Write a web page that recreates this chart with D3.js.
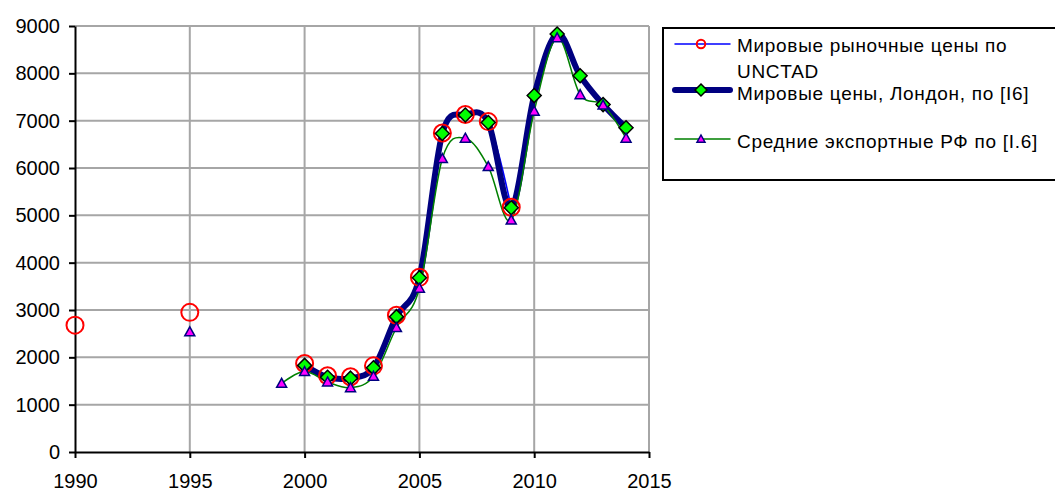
<!DOCTYPE html>
<html>
<head>
<meta charset="utf-8">
<script src="https://cdn.jsdelivr.net/npm/d3@7"></script>
<style>
  body { margin: 0; background: #fff; }
  text { font-family: "Liberation Sans", Arial, sans-serif; fill: #000; }
</style>
</head>
<body>
<svg id="chart" width="1055" height="493"></svg>
<script>
// jaren en de drie reeksen (null = geen waarde)
var years = [1990, 1991, 1992, 1993, 1994, 1995, 1996, 1997, 1998, 1999,
             2000, 2001, 2002, 2003, 2004, 2005, 2006, 2007, 2008, 2009,
             2010, 2011, 2012, 2013, 2014];

var unctad = [2680, null, null, null, null, 2950, null, null, null, null,
              1870, 1610, 1590, 1820, 2890, 3690, 6740, 7130, 6980, 5170,
              null, null, null, null, null];

var london = [null, null, null, null, null, null, null, null, null, null,
              1830, 1580, 1560, 1780, 2860, 3680, 6730, 7120, 6960, 5160,
              7530, 8830, 7950, 7340, 6850];

var exportRF = [null, null, null, null, null, 2540, null, null, null, 1450,
                1700, 1480, 1360, 1600, 2630, 3460, 6200, 6630, 6030, 4900,
                7200, 8750, 7550, 7330, 6630];

var xTicks = [1990, 1995, 2000, 2005, 2010, 2015];
var yTicks = [0, 1000, 2000, 3000, 4000, 5000, 6000, 7000, 8000, 9000];

var legendLabels = [
  ["Мировые рыночные цены по", "UNCTAD"],
  ["Мировые цены, Лондон, по [I6]"],
  ["Средние экспортные РФ по [I.6]"]
];

var svg = d3.select("#chart"),
    plot = {left: 75, right: 649, top: 26, bottom: 452};

var x = d3.scaleLinear().domain([1990, 2015]).range([plot.left, plot.right]);
var y = d3.scaleLinear().domain([0, 9000]).range([plot.bottom, plot.top]);

// grid
svg.append("g")
  .selectAll("line")
  .data(yTicks.slice(1))
  .enter().append("line")
    .attr("x1", plot.left).attr("x2", plot.right)
    .attr("y1", function(d) { return y(d); })
    .attr("y2", function(d) { return y(d); })
    .attr("stroke", "#a6a6a6").attr("stroke-width", 2);

svg.append("g")
  .selectAll("line")
  .data(xTicks.slice(1))
  .enter().append("line")
    .attr("y1", plot.top).attr("y2", plot.bottom)
    .attr("x1", function(d) { return x(d); })
    .attr("x2", function(d) { return x(d); })
    .attr("stroke", "#a6a6a6").attr("stroke-width", 2);

// assen
var xAxis = svg.append("g")
  .attr("transform", "translate(0," + plot.bottom + ")")
  .call(d3.axisBottom(x).tickValues(xTicks).tickFormat(d3.format("d")).tickSizeOuter(0).tickSizeInner(6).tickPadding(16));

var yAxis = svg.append("g")
  .attr("transform", "translate(" + plot.left + ",0)")
  .call(d3.axisLeft(y).tickValues(yTicks).tickFormat(d3.format("d")).tickSizeOuter(0).tickSizeInner(6).tickPadding(9));

[xAxis, yAxis].forEach(function(a) {
  a.select(".domain").attr("stroke", "#000").attr("stroke-width", 2);
  a.selectAll(".tick line").attr("stroke", "#000").attr("stroke-width", 2);
  a.selectAll(".tick text").attr("font-size", 20).attr("font-family", null);
});

// lijnen (afgevlakt zoals in Excel)
var line = d3.line()
  .defined(function(d) { return d[1] != null; })
  .x(function(d) { return x(d[0]); })
  .y(function(d) { return y(d[1]); })
  .curve(d3.curveCardinal.tension(0));

function pairs(values) {
  return years.map(function(yr, i) { return [yr, values[i]]; });
}

svg.append("path").datum(pairs(unctad))
  .attr("d", line).attr("fill", "none").attr("stroke", "#0000ff").attr("stroke-width", 1.5);

svg.append("path").datum(pairs(london))
  .attr("d", line).attr("fill", "none").attr("stroke", "#000080").attr("stroke-width", 6)
  .attr("stroke-linejoin", "round");

svg.append("path").datum(pairs(exportRF))
  .attr("d", line).attr("fill", "none").attr("stroke", "#008000").attr("stroke-width", 1.5);

// markers: grootte k = 1 in de grafiek, kleiner in de legenda
function circleStyle(k) {
  return function(s) {
    s.attr("d", d3.symbol().type(d3.symbolCircle).size(Math.PI * Math.pow(8.5 * k, 2)))
     .attr("fill", "none").attr("stroke", "#ff0000").attr("stroke-width", 2);
  };
}
function diamondStyle(k) {
  var r = 7 * k;
  return function(s) {
    s.attr("d", "M0," + (-r) + "L" + r + ",0L0," + r + "L" + (-r) + ",0Z")
     .attr("fill", "#00ff00").attr("stroke", "#000").attr("stroke-width", 1.5);
  };
}
function triStyle(k) {
  var r = 5 * k;
  return function(s) {
    s.attr("d", "M0," + (-r) + "L" + r + "," + (0.8 * r) + "L" + (-r) + "," + (0.8 * r) + "Z")
     .attr("fill", "#ff00ff").attr("stroke", "#000080").attr("stroke-width", 1.5);
  };
}

function markers(values, draw) {
  var pts = pairs(values).filter(function(d) { return d[1] != null; });
  svg.append("g")
    .selectAll("path")
    .data(pts)
    .enter().append("path")
      .attr("transform", function(d) { return "translate(" + x(d[0]) + "," + y(d[1]) + ")"; })
      .call(draw);
}

markers(unctad, circleStyle(1));
markers(london, diamondStyle(1));
markers(exportRF, triStyle(1));

// legenda
var legend = svg.append("g");
legend.append("rect")
  .attr("x", 663).attr("y", 28).attr("width", 400).attr("height", 152)
  .attr("fill", "#fff").attr("stroke", "#000").attr("stroke-width", 2);

var legendY = [44, 90, 139],
    legendText = [[52, 78], [100], [148]],
    legendLine = [
      {color: "#0000ff", width: 1.5, marker: circleStyle(0.5)},
      {color: "#000080", width: 6, marker: diamondStyle(0.85)},
      {color: "#008000", width: 1.5, marker: triStyle(0.8)}
    ];

legendLabels.forEach(function(lbl, i) {
  var ly = legendY[i];
  legend.append("line")
    .attr("x1", 675).attr("x2", 730).attr("y1", ly).attr("y2", ly)
    .attr("stroke", legendLine[i].color).attr("stroke-width", legendLine[i].width)
    .attr("stroke-linecap", "round");
  legend.append("path")
    .attr("transform", "translate(701," + ly + ")")
    .call(legendLine[i].marker);
  lbl.forEach(function(t, j) {
    legend.append("text")
      .attr("x", 737).attr("y", legendText[i][j])
      .attr("font-size", 19)
      .attr("letter-spacing", 0.7)
      .text(t);
  });
});
</script>
</body>
</html>
